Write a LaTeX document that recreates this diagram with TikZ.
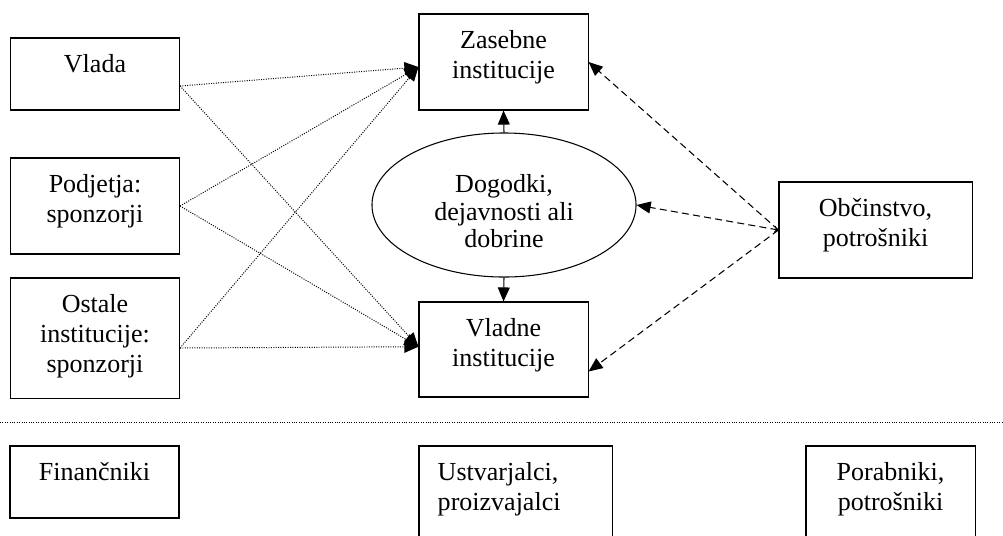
\documentclass[tikz,border=0pt]{standalone}
\usepackage{fontspec}
\setmainfont{Liberation Serif}
\usetikzlibrary{arrows.meta,shapes.geometric}

\begin{document}
\begin{tikzpicture}[x=0.025cm,y=-0.025cm,
  box/.style={draw,line width=0.75pt,rectangle,inner sep=0pt,minimum width=4.225cm},
  boxtext/.style={font=\fontsize{18.5}{21.5}\selectfont,align=center,inner sep=0pt,anchor=north,yshift=-0.41cm},
  eltext/.style={font=\fontsize{18.5}{19.6}\selectfont,align=center,inner sep=0pt,anchor=center,yshift=-0.16cm},
  dotarrow/.style={line width=0.7pt,densely dotted,-{Triangle[length=10pt,width=8.5pt]}},
  dasharrow/.style={line width=0.75pt,dash pattern=on 5pt off 3pt,-{Triangle[length=10pt,width=8.5pt]}},
  solidarrow/.style={line width=0.75pt,-{Triangle[length=10pt,width=8.5pt]}}]
\useasboundingbox (0,0) rectangle (1003,535);
\clip (0,0) rectangle (1003,535);
% left column
\node[box,minimum height=1.8cm,label={[boxtext]north:Vlada}] (vlada) at (95,74) {};
\node[box,minimum height=2.4cm,label={[boxtext]north:{Podjetja:\\sponzorji}}] (podjetja) at (95,206) {};
\node[box,minimum height=3.0cm,label={[boxtext]north:{Ostale\\institucije:\\sponzorji}}] (ostale) at (95,338) {};
% middle
\node[box,minimum height=2.4cm,label={[boxtext]north:{Zasebne\\institucije}}] (zasebne) at (503.5,62) {};
\node[box,minimum height=2.375cm,label={[boxtext]north:{Vladne\\institucije}}] (vladne) at (503.5,349.5) {};
\node[draw,ellipse,line width=0.75pt,inner sep=0pt,minimum width=6.6cm,minimum height=3.6cm,
  label={[eltext]center:{Dogodki,\\dejavnosti ali\\dobrine}}] (dogodki) at (504,205) {};
% right
\node[box,minimum width=4.825cm,minimum height=2.4cm,label={[boxtext]north:{Občinstvo,\\potrošniki}}] (obcinstvo) at (875.5,230) {};
% bottom row
\node[box,minimum height=1.8cm,label={[boxtext]north:Finančniki}] (financniki) at (94.5,482) {};
\node[box,minimum width=4.825cm,minimum height=2.4cm,
  label={[boxtext,align=left,anchor=north west,xshift=0.475cm]north west:{Ustvarjalci,\\proizvajalci}}] (ustvarjalci) at (515.5,494) {};
\node[box,minimum height=2.4cm,label={[boxtext]north:{Porabniki,\\potrošniki}}] (porabniki) at (890.5,494) {};

\coordinate (vladaout) at ([yshift=-0.3cm]vlada.east);
\coordinate (ostaleout) at ([yshift=-0.25cm]ostale.east);
\coordinate (zasebnein) at ([yshift=-0.125cm]zasebne.west);
\coordinate (vladnein) at ([yshift=0.07cm]vladne.west);
\coordinate (vladneright) at ([yshift=-0.55cm]vladne.east);

\path[draw,dotarrow] (vladaout) -- (zasebnein);
\path[draw,dotarrow] (vladaout) -- (vladnein);
\path[draw,dotarrow] (podjetja.east) -- (zasebnein);
\path[draw,dotarrow] (podjetja.east) -- (vladnein);
\path[draw,dotarrow] (ostaleout) -- (zasebnein);
\path[draw,dotarrow] (ostaleout) -- (vladnein);

\path[draw,solidarrow] (dogodki.north) -- (zasebne.south);
\path[draw,solidarrow] (dogodki.south) -- (vladne.north);

\path[draw,dasharrow] (obcinstvo.west) -- (zasebne.east);
\path[draw,dasharrow,{To[length=3pt,width=5pt]}-{Triangle[length=10pt,width=8.5pt]}] (obcinstvo.west) -- (dogodki.east);
\path[draw,dasharrow] (obcinstvo.west) -- (vladneright);

% separator
\path[draw,line width=0.7pt,densely dotted] (0,422) -- (1003,422);
\end{tikzpicture}
\end{document}
